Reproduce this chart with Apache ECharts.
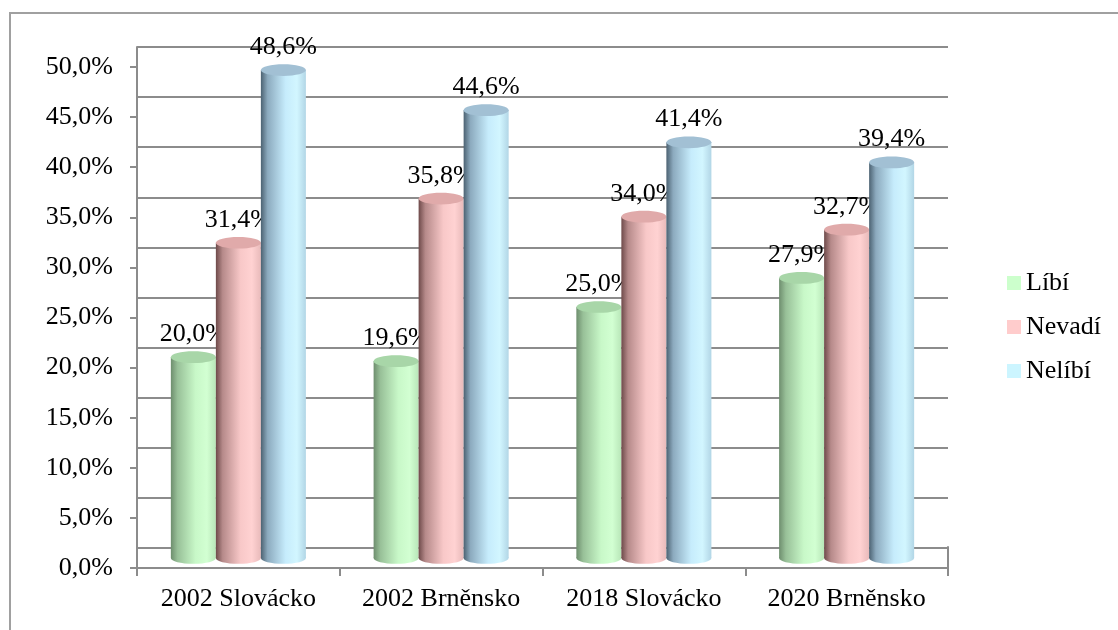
<!DOCTYPE html>
<html>
<head>
<meta charset="utf-8">
<script src="https://cdn.jsdelivr.net/npm/echarts@6/dist/echarts.min.js"></script>
<style>
  html, body { margin: 0; padding: 0; background: #fff; }
  #main { width: 1118px; height: 630px; }
</style>
</head>
<body>
<div id="main"></div>
<script>
var categories = ['2002 Slovácko', '2002 Brněnsko', '2018 Slovácko', '2020 Brněnsko'];
var libi = [20.0, 19.6, 25.0, 27.9];
var nevadi = [31.4, 35.8, 34.0, 32.7];
var nelibi = [48.6, 44.6, 41.4, 39.4];
var yTicks = [0, 5, 10, 15, 20, 25, 30, 35, 40, 45, 50];

var FONT = '"Liberation Serif", "Times New Roman", serif';
var GRID_COLOR = '#8c8c8c';

function pct(v) {
	return v.toFixed(1).replace('.', ',') + '%';
}

// shading of each cylinder, left edge dark -> light
var looks = [
	{ legend: '#ccffcc', cap: '#a8d6a8', stops: ['#6e8e6e', '#98c098', '#c8f8c8', '#d2ffd2', '#b8e6b8'] },
	{ legend: '#ffcccc', cap: '#e0aaaa', stops: ['#6e4a4a', '#b68a8a', '#f8c8c8', '#ffd2d2', '#e8baba'] },
	{ legend: '#ccf5ff', cap: '#a2c0d4', stops: ['#4c6272', '#8caabe', '#c6ecfc', '#d2f6ff', '#b2d6e6'] }
];

function cylinder(k) {
	var look = looks[k];
	var fill = {
		type: 'linear', x: 0, y: 0, x2: 1, y2: 0,
		colorStops: [
			{ offset: 0, color: look.stops[0] },
			{ offset: 0.15, color: look.stops[1] },
			{ offset: 0.55, color: look.stops[2] },
			{ offset: 0.8, color: look.stops[3] },
			{ offset: 1, color: look.stops[4] }
		]
	};
	return function (params, api) {
		var cat = api.value(0);
		var val = api.value(1);
		var top = api.coord([cat, val]);
		var base = api.coord([cat, 0]);
		var band = api.size([1, 0])[0];
		var w = band * 0.222;
		var cx = top[0] + (k - 1) * w;
		var ry = w * 0.13;
		return {
			type: 'group',
			children: [
				{ type: 'rect', shape: { x: cx - w / 2, y: top[1], width: w, height: base[1] - top[1] }, style: { fill: fill } },
				{ type: 'ellipse', shape: { cx: cx, cy: base[1], rx: w / 2, ry: ry }, style: { fill: fill } },
				{ type: 'ellipse', shape: { cx: cx, cy: top[1], rx: w / 2, ry: ry }, style: { fill: look.cap } },
				{
					type: 'text', x: cx, y: top[1] - ry - 4,
					style: { text: pct(val), fill: '#000', font: '26px ' + FONT, align: 'center', verticalAlign: 'bottom' }
				}
			]
		};
	};
}

function toData(arr) {
	return arr.map(function (v, i) { return [i, v]; });
}

var myChart = echarts.init(document.getElementById('main'));
var option = {
	animation: false,
	backgroundColor: '#fff',
	graphic: [{
		type: 'rect',
		shape: { x: 10, y: 13, width: 1200, height: 700 },
		style: { fill: 'none', stroke: '#a0a0a0', lineWidth: 2 },
		silent: true
	}],
	legend: {
		orient: 'vertical',
		left: 1002,
		top: 263,
		icon: 'rect',
		itemWidth: 14,
		itemHeight: 14,
		itemGap: 14,
		textStyle: { fontFamily: FONT, fontSize: 26, color: '#000', lineHeight: 30 },
		data: ['Líbí', 'Nevadí', 'Nelíbí']
	},
	grid: [
		// back wall
		{ left: 137, right: 170, top: 47, bottom: 82 },
		// front axes
		{ left: 137, right: 170, top: 67, bottom: 62 },
		// cylinders
		{ left: 137, right: 170, top: 56, bottom: 72 },
		// floor side
		{ left: 137, right: 170, top: 547, bottom: 62 }
	],
	xAxis: [
		{
			gridIndex: 0, type: 'category', data: categories,
			axisLine: { show: true, lineStyle: { color: GRID_COLOR, width: 2 } },
			axisTick: { show: false }, axisLabel: { show: false }
		},
		{
			gridIndex: 1, type: 'category', data: categories,
			axisLine: { show: true, lineStyle: { color: GRID_COLOR, width: 2 } },
			axisTick: { show: true, interval: 0, length: 8, lineStyle: { color: GRID_COLOR, width: 2 } },
			axisLabel: { interval: 0, fontFamily: FONT, fontSize: 26, color: '#000', margin: 18 }
		},
		{ gridIndex: 2, type: 'category', data: categories, show: false },
		{ gridIndex: 3, type: 'category', data: categories, show: false }
	],
	yAxis: [
		{
			gridIndex: 0, type: 'value', min: 0, max: 50, interval: 5,
			axisLine: { show: true, lineStyle: { color: GRID_COLOR, width: 2 } },
			axisTick: { show: false }, axisLabel: { show: false },
			splitLine: { show: true, lineStyle: { color: GRID_COLOR, width: 2 } }
		},
		{
			gridIndex: 1, type: 'value', min: 0, max: 50, interval: 5,
			axisLine: { show: true, lineStyle: { color: GRID_COLOR, width: 2 } },
			axisTick: { show: true, length: 7, lineStyle: { color: GRID_COLOR, width: 2 } },
			splitLine: { show: false },
			axisLabel: {
				fontFamily: FONT, fontSize: 26, color: '#000', margin: 24,
				formatter: function (v) { return yTicks.indexOf(v) >= 0 ? pct(v) : ''; }
			}
		},
		{ gridIndex: 2, type: 'value', min: 0, max: 50, show: false },
		{
			gridIndex: 3, type: 'value', min: 0, max: 1, position: 'right',
			axisLine: { show: true, lineStyle: { color: GRID_COLOR, width: 2 } },
			axisTick: { show: false }, axisLabel: { show: false }, splitLine: { show: false }
		}
	],
	series: [
		{ name: 'Líbí', type: 'custom', xAxisIndex: 2, yAxisIndex: 2, itemStyle: { color: looks[0].legend }, renderItem: cylinder(0), data: toData(libi) },
		{ name: 'Nevadí', type: 'custom', xAxisIndex: 2, yAxisIndex: 2, itemStyle: { color: looks[1].legend }, renderItem: cylinder(1), data: toData(nevadi) },
		{ name: 'Nelíbí', type: 'custom', xAxisIndex: 2, yAxisIndex: 2, itemStyle: { color: looks[2].legend }, renderItem: cylinder(2), data: toData(nelibi) }
	]
};
myChart.setOption(option);
</script>
</body>
</html>
